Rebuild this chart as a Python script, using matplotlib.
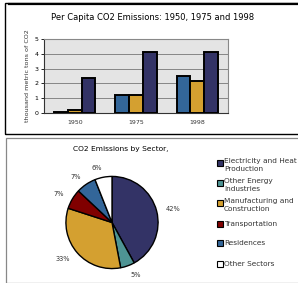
import matplotlib
matplotlib.use("Agg")
import matplotlib.pyplot as plt
from matplotlib.patches import Rectangle
import numpy as np

years = ["1950", "1975", "1998"]
series_a = [0.1, 1.25, 2.5]
series_b = [0.2, 1.2, 2.15]
series_c = [2.35, 4.1, 4.1]
bar_colors = ["#336699", "#D4A030", "#333366"]

sectors = ["Electricity and Heat\nProduction", "Other Energy\nIndustries",
           "Manufacturing and\nConstruction", "Transportation",
           "Residences", "Other Sectors"]
shares = [42, 5, 33, 7, 7, 6]
pie_colors = ["#333366", "#4E9494", "#D4A030", "#800000", "#336699", "#FFFFFF"]

W, H = 298, 283
fig = plt.figure(figsize=(W/100, H/100), dpi=100)
fig.patch.set_facecolor("white")

def fx(x): return x / W
def fy(y): return 1 - y / H

# panel borders
fig.add_artist(Rectangle((fx(5), fy(134)), fx(300) - fx(5), fy(3) - fy(134),
                         transform=fig.transFigure, fill=False, ec="black", lw=1.0))
fig.add_artist(plt.Line2D([fx(9), fx(298)], [fy(3.5), fy(3.5)], transform=fig.transFigure,
                          color="black", lw=1.6))
fig.add_artist(Rectangle((fx(5.5), fy(283)), fx(300) - fx(5.5), fy(138) - fy(283),
                         transform=fig.transFigure, fill=False, ec="#888888", lw=0.9))

# bar chart
ax = fig.add_axes([fx(44), fy(113), fx(228) - fx(44), fy(39) - fy(113)])
ax.set_facecolor("#E4E4E4")
x = np.arange(len(years))
w = 0.225
for i, (vals, c) in enumerate(zip([series_a, series_b, series_c], bar_colors)):
    ax.bar(x + (i - 1) * w, vals, w, color=c, edgecolor="black", linewidth=1.4, zorder=3)
ax.set_xlim(-0.5, 2.5)
ax.set_ylim(0, 5)
ax.set_yticks(range(6))
ax.set_yticklabels([str(v) for v in range(6)], fontsize=4.5)
ax.set_xticks(x)
ax.set_xticklabels(years, fontsize=4.5, color="#333333")
ax.tick_params(axis="x", length=0, pad=5)
ax.tick_params(axis="y", length=2, width=0.6, pad=2)
ax.yaxis.grid(True, color="#777777", lw=0.6, zorder=0)
for s in ax.spines.values():
    s.set_color("#888888")
    s.set_linewidth(0.8)
ax.spines["left"].set_color("#333333")
ax.spines["bottom"].set_color("#333333")
ax.set_ylabel("thousand metric tons of CO2", fontsize=4.6, color="#333333", labelpad=3)
fig.text(fx(152.5), fy(18), "Per Capita CO2 Emissions: 1950, 1975 and 1998",
         ha="center", va="center", fontsize=6.0)

# pie chart
r = 47
cx, cy = 112, 222.5
pax = fig.add_axes([fx(cx - r), fy(cy + r), fx(2 * r), fx(2 * r) * W / H])
wedges, texts = pax.pie(shares, colors=pie_colors, startangle=90, counterclock=False,
                        labels=[f"{s}%" for s in shares], labeldistance=1.2,
                        wedgeprops=dict(edgecolor="black", linewidth=1.0),
                        textprops=dict(fontsize=4.8, color="#333333"))
pax.set_xlim(-1.02, 1.02)
pax.set_ylim(-1.02, 1.02)
pax.set_aspect("equal")
fig.text(fx(73), fy(149), "CO2 Emissions by Sector, ", ha="left", va="center", fontsize=5.4)

# legend
leg_y = [167.5, 187.5, 207.5, 224, 243, 264]
for lab, c, yy in zip(sectors, pie_colors, leg_y):
    two = "\n" in lab
    fig.add_artist(Rectangle((fx(216.5), fy(yy - 1.5 if two else yy + 3)),
                             fx(6), fy(0) - fy(6), transform=fig.transFigure,
                             fc=c, ec="black", lw=0.8))
    ty = yy - 9 if two else yy
    fig.text(fx(224), fy(ty), lab, ha="left", va="top" if two else "center",
             fontsize=5.3, color="#333333", linespacing=1.25)

fig.savefig("out.png", dpi=100)
